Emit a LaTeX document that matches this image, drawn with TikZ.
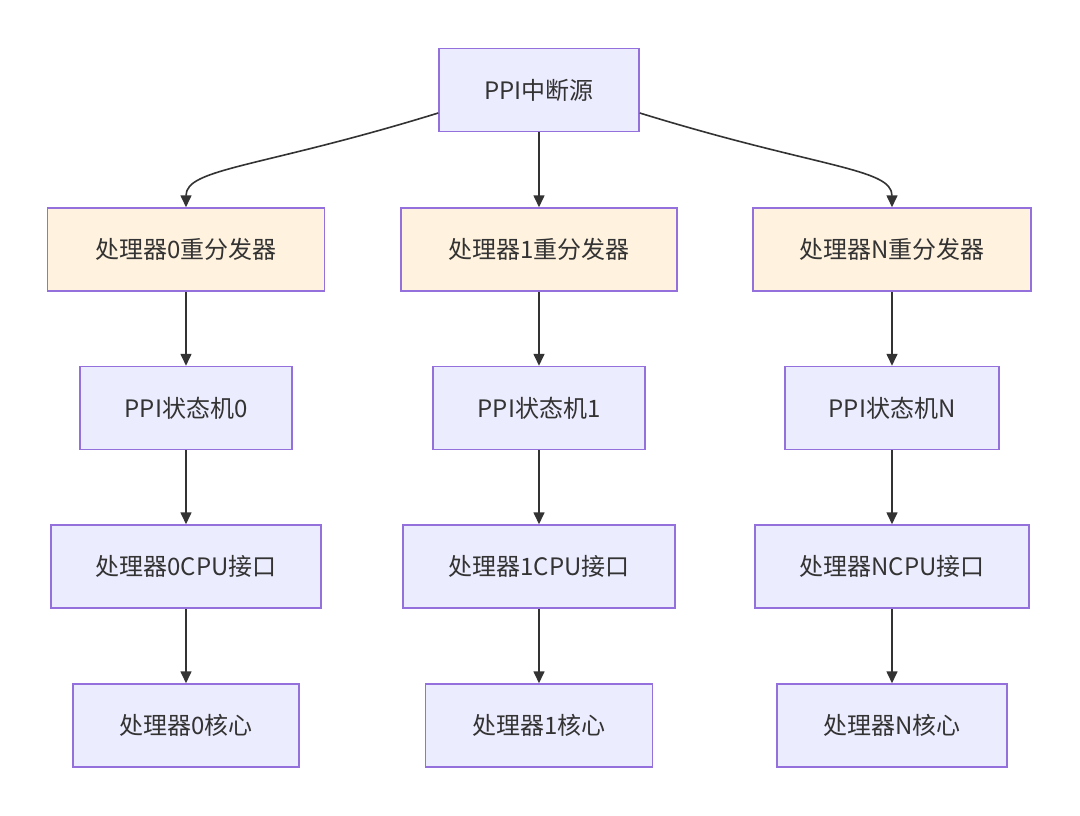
\documentclass[tikz,border=0pt]{standalone}
\usepackage{fontspec}
\setmainfont{Noto Sans CJK SC}
\usetikzlibrary{arrows.meta}
\definecolor{nodefill}{HTML}{ECECFF}
\definecolor{nodeline}{HTML}{9370DB}
\definecolor{orfill}{HTML}{FFF2DF}
\definecolor{txt}{HTML}{333333}
\tikzset{
  box/.style={draw=nodeline, line width=1.5pt, fill=nodefill, inner sep=0pt, minimum height=83pt, text=txt, font=\fontsize{24}{28}\selectfont},
  obox/.style={box, fill=orfill},
  edge/.style={draw=txt, line width=1.6pt, -{Triangle[length=12pt,width=11pt]}}
}
\begin{document}
\begin{tikzpicture}[x=1pt,y=-1pt]
\useasboundingbox (0,0) rectangle (1080,815);
\fill[white] (0,0) rectangle (1080,815);
\node[box, minimum width=200pt] (src) at (539,90) {PPI中断源};
\node[obox, minimum width=277pt] (r0) at (186,249.5) {处理器0重分发器};
\node[obox, minimum width=276pt] (r1) at (539,249.5) {处理器1重分发器};
\node[obox, minimum width=278pt] (rN) at (892,249.5) {处理器N重分发器};
\node[box, minimum width=212pt] (s0) at (186,408) {PPI状态机0};
\node[box, minimum width=212pt] (s1) at (539,408) {PPI状态机1};
\node[box, minimum width=214pt] (sN) at (892,408) {PPI状态机N};
\node[box, minimum width=270pt] (c0) at (186,566.5) {处理器0CPU接口};
\node[box, minimum width=272pt] (c1) at (539,566.5) {处理器1CPU接口};
\node[box, minimum width=274pt] (cN) at (892,566.5) {处理器NCPU接口};
\node[box, minimum width=226pt] (k0) at (186,725.5) {处理器0核心};
\node[box, minimum width=227pt] (k1) at (539,725.5) {处理器1核心};
\node[box, minimum width=230pt] (kN) at (892,725.5) {处理器N核心};
\coordinate (sl) at ([yshift=-23pt]src.west);
\coordinate (sr) at ([yshift=-23pt]src.east);
\draw[edge] (sl) .. controls (260,168) and (186,168) .. (r0.north);
\draw[edge] (sr) .. controls (818,168) and (892,168) .. (rN.north);
\draw[edge] (src) -- (r1);
\foreach \c in {0,1,N}{
  \draw[edge] (r\c) -- (s\c);
  \draw[edge] (s\c) -- (c\c);
  \draw[edge] (c\c) -- (k\c);
}
\end{tikzpicture}
\end{document}
